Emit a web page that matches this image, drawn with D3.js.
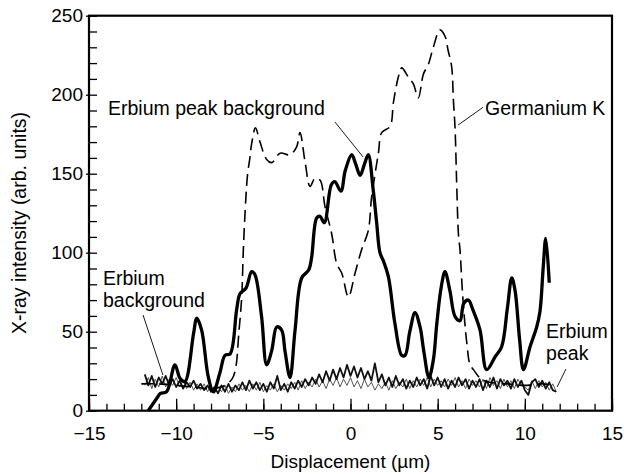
<!DOCTYPE html>
<html>
<head>
<meta charset="utf-8">
<script src="https://cdn.jsdelivr.net/npm/d3@7"></script>
<style>
    body { margin: 0; background: #fff; }
    svg { display: block; font-family: "Liberation Sans", Arial, Helvetica, sans-serif; }
</style>
</head>
<body>
<svg id="chart" width="624" height="474"></svg>
<script>
// thick solid curve: [displacement, intensity]
var erbiumPeakBackground = [
    [-11.6, 0], [-11.1, 8], [-10.9, 11], [-10.55, 12], [-10.07, 29], [-9.78, 20.5], [-9.5, 18.4],
    [-9.0, 49], [-8.82, 58.5], [-8.54, 51], [-8.16, 21.5], [-7.87, 12], [-7.49, 24], [-7.2, 35],
    [-6.9, 36], [-6.53, 64], [-6.34, 74], [-6.0, 77.5], [-5.67, 88], [-5.48, 86], [-5.1, 59.5],
    [-4.81, 29], [-4.52, 38], [-4.23, 53], [-3.95, 51], [-3.76, 38], [-3.47, 21], [-3.18, 51],
    [-2.8, 84], [-2.4, 89], [-2.23, 97], [-1.94, 122], [-1.75, 123], [-1.5, 119], [-1.1, 143],
    [-0.9, 145], [-0.55, 139], [-0.3, 152], [0.07, 162], [0.3, 156], [0.55, 149], [0.8, 156],
    [1.02, 162], [1.3, 140], [1.5, 119], [1.69, 100], [1.88, 95], [2.17, 85], [2.55, 55],
    [2.94, 35], [3.13, 35], [3.4, 50], [3.7, 62], [3.99, 53], [4.2, 38], [4.5, 21], [4.75, 32],
    [4.95, 55], [5.2, 78], [5.42, 88], [5.7, 76], [6.0, 59.5], [6.28, 57], [6.5, 68], [6.76, 70],
    [7.05, 63], [7.43, 51], [7.81, 26], [8.29, 34], [8.67, 40.5], [9.0, 65], [9.25, 84],
    [9.44, 76], [9.7, 45], [9.92, 26], [10.3, 40.5], [10.68, 53], [10.87, 63], [11.05, 90],
    [11.2, 109], [11.4, 81]
];

// dashed curve
var germaniumK = [
    [-12, 17], [-11, 17], [-10, 16], [-9, 15], [-8, 14], [-7.2, 16], [-6.8, 20], [-6.6, 26],
    [-6.4, 50], [-6.24, 72], [-6.15, 101], [-6.0, 135], [-5.9, 150], [-5.77, 160], [-5.67, 169],
    [-5.45, 179], [-5.19, 170], [-4.81, 159], [-4.52, 157], [-4.04, 163], [-3.47, 162],
    [-3.09, 167], [-2.9, 176], [-2.6, 157], [-2.32, 142], [-2.04, 147], [-1.75, 146],
    [-1.46, 129], [-1.08, 112], [-0.79, 93], [-0.5, 87], [-0.12, 72], [0.26, 87], [0.64, 102],
    [1.02, 114], [1.21, 135], [1.6, 163], [1.79, 176], [2.27, 180], [2.46, 195], [2.74, 211],
    [2.94, 217], [3.32, 211], [3.6, 207], [3.89, 198], [4.18, 213], [4.46, 219], [4.75, 230],
    [5.13, 241], [5.42, 237], [5.6, 228], [5.8, 218], [5.9, 197], [6.0, 178], [6.09, 144],
    [6.19, 112], [6.28, 102], [6.44, 72], [6.67, 43], [6.86, 29], [7.05, 26], [7.5, 20],
    [8, 18], [9, 17], [10, 16], [11, 17], [11.6, 16]
];

// noisy traces, sampled every 0.2 um from -11.8
var noiseStart = -11.8;
var noiseStep = 0.2;
var erbiumPeak = [
    23, 16, 22, 15, 21, 17, 22, 16, 20, 15,
    19, 14, 18, 15, 19, 14, 17, 13, 16, 12,
    15, 11, 16, 12, 17, 12, 16, 13, 18, 13,
    19, 14, 18, 13, 17, 12, 18, 14, 22, 13,
    17, 12, 18, 14, 19, 15, 20, 16, 21, 17,
    23, 18, 25, 19, 26, 20, 27, 21, 29, 22,
    28, 21, 27, 20, 25, 19, 30, 18, 23, 16,
    21, 15, 22, 16, 20, 14, 19, 15, 21, 16,
    20, 14, 22, 16, 21, 15, 20, 14, 19, 15,
    21, 16, 20, 14, 19, 15, 20, 13, 19, 15,
    21, 14, 20, 16, 19, 14, 20, 15, 19, 13,
    10, 18, 20, 15, 19, 14, 18, 13, 12
];
var erbiumBackground = [
    16, 21, 14, 20, 15, 22, 15, 20, 16, 21,
    15, 19, 14, 18, 13, 17, 13, 17, 12, 16,
    11, 15, 12, 16, 11, 15, 12, 17, 13, 16,
    12, 17, 13, 18, 12, 16, 13, 17, 12, 16,
    13, 17, 14, 18, 13, 19, 14, 18, 15, 20,
    15, 19, 14, 20, 16, 21, 15, 20, 16, 21,
    15, 19, 14, 20, 15, 18, 13, 17, 14, 18,
    13, 19, 14, 18, 15, 20, 14, 19, 15, 20,
    16, 21, 15, 20, 16, 19, 15, 20, 16, 21,
    15, 19, 14, 20, 16, 19, 15, 20, 14, 21,
    16, 19, 14, 20, 15, 19, 14, 20, 16, 15,
    13, 19, 14, 19, 15, 18, 13, 17, 12
];

var xMajorTicks = [-15, -10, -5, 0, 5, 10, 15];
var yMajorTicks = [0, 50, 100, 150, 200, 250];

// annotations in data coordinates: text lines and leader line
var notes = [
    { lines: ['Erbium peak background'], x: -13.91, y: 187.2, leader: [[-0.89, 182.7], [0.72, 160.6]] },
    { lines: ['Germanium K'], x: 7.72, y: 187.2, leader: [[7.6, 192], [6.17, 180.8]] },
    { lines: ['Erbium', 'background'], x: -14.2, y: 79.6, leader: [[-11.9, 60.6], [-10.76, 22.6]] },
    { lines: ['Erbium', 'peak'], x: 11.22, y: 46, leader: [[12.36, 26.4], [11.85, 15]] }
];

var svg = d3.select('#chart');
var margin = { top: 15.7, right: 12, bottom: 63.3, left: 89 };
var width = 624 - margin.left - margin.right;
var height = 474 - margin.top - margin.bottom;

var g = svg.append('g')
    .attr('transform', `translate(${margin.left},${margin.top})`);

var x = d3.scaleLinear().domain([-15, 15]).range([0, width]);
var y = d3.scaleLinear().domain([0, 250]).range([height, 0]);

var fmt = function (d) {
    return d < 0 ? '\u2212' + Math.abs(d) : String(d);
};

// minor ticks
g.append('g')
    .attr('transform', `translate(0,${height})`)
    .call(d3.axisBottom(x).tickValues(d3.range(-15, 16, 1)).tickSize(-7).tickFormat(''))
    .call(function (s) { s.select('.domain').remove(); });
g.append('g')
    .call(d3.axisLeft(y).tickValues(d3.range(0, 251, 10)).tickSize(-8).tickFormat(''))
    .call(function (s) { s.select('.domain').remove(); });

// major ticks with labels
g.append('g')
    .attr('class', 'xaxis')
    .attr('transform', `translate(0,${height})`)
    .call(d3.axisBottom(x).tickValues(xMajorTicks).tickSize(-12).tickPadding(16).tickFormat(fmt))
    .call(function (s) { s.select('.domain').remove(); });
g.append('g')
    .attr('class', 'yaxis')
    .call(d3.axisLeft(y).tickValues(yMajorTicks).tickSize(3).tickPadding(3).tickFormat(fmt))
    .call(function (s) { s.select('.domain').remove(); });

g.selectAll('.tick line').attr('stroke', '#000').attr('stroke-width', 1.3);
g.selectAll('.xaxis text, .yaxis text')
    .attr('fill', '#000')
    .style('font-size', '19px');
g.selectAll('.xaxis text').attr('dy', '0.71em');

// frame
g.append('rect')
    .attr('width', width)
    .attr('height', height)
    .attr('fill', 'none')
    .attr('stroke', '#000')
    .attr('stroke-width', 2.2);

var line = d3.line()
    .x(function (d) { return x(d[0]); })
    .y(function (d) { return y(d[1]); });

var noisePoints = function (arr) {
    return arr.map(function (v, i) {
        return [noiseStart + i * noiseStep, v];
    });
};

// noisy traces
g.append('path')
    .attr('fill', 'none')
    .attr('stroke', '#555')
    .attr('stroke-width', 1)
    .attr('d', line(noisePoints(erbiumBackground)));

g.append('path')
    .attr('fill', 'none')
    .attr('stroke', '#111')
    .attr('stroke-width', 1.8)
    .attr('stroke-linejoin', 'round')
    .attr('d', line(noisePoints(erbiumPeak)));

// dashed germanium
g.append('path')
    .attr('fill', 'none')
    .attr('stroke', '#000')
    .attr('stroke-width', 1.6)
    .attr('stroke-dasharray', '12,6')
    .attr('d', line.curve(d3.curveCatmullRom.alpha(0.5))(germaniumK));

// thick solid curve
g.append('path')
    .attr('fill', 'none')
    .attr('stroke', '#000')
    .attr('stroke-width', 3.3)
    .attr('stroke-linejoin', 'round')
    .attr('d', line.curve(d3.curveCatmullRom.alpha(0.5))(erbiumPeakBackground));

// annotations
notes.forEach(function (n) {
    var t = g.append('text')
        .attr('x', x(n.x))
        .attr('y', y(n.y))
        .style('font-size', '19.5px')
        .attr('fill', '#000');
    n.lines.forEach(function (l, i) {
        t.append('tspan')
            .attr('x', x(n.x))
            .attr('dy', i === 0 ? 0 : 22)
            .text(l);
    });
    g.append('line')
        .attr('x1', x(n.leader[0][0]))
        .attr('y1', y(n.leader[0][1]))
        .attr('x2', x(n.leader[1][0]))
        .attr('y2', y(n.leader[1][1]))
        .attr('stroke', '#000')
        .attr('stroke-width', 0.9);
});

// axis titles
svg.append('text')
    .attr('x', margin.left + x(0))
    .attr('y', 468)
    .attr('text-anchor', 'middle')
    .style('font-size', '19px')
    .text('Displacement (\u00b5m)');

svg.append('text')
    .attr('transform', 'translate(26,223) rotate(-90)')
    .attr('text-anchor', 'middle')
    .style('font-size', '19.5px')
    .text('X-ray intensity (arb. units)');
</script>
</body>
</html>
